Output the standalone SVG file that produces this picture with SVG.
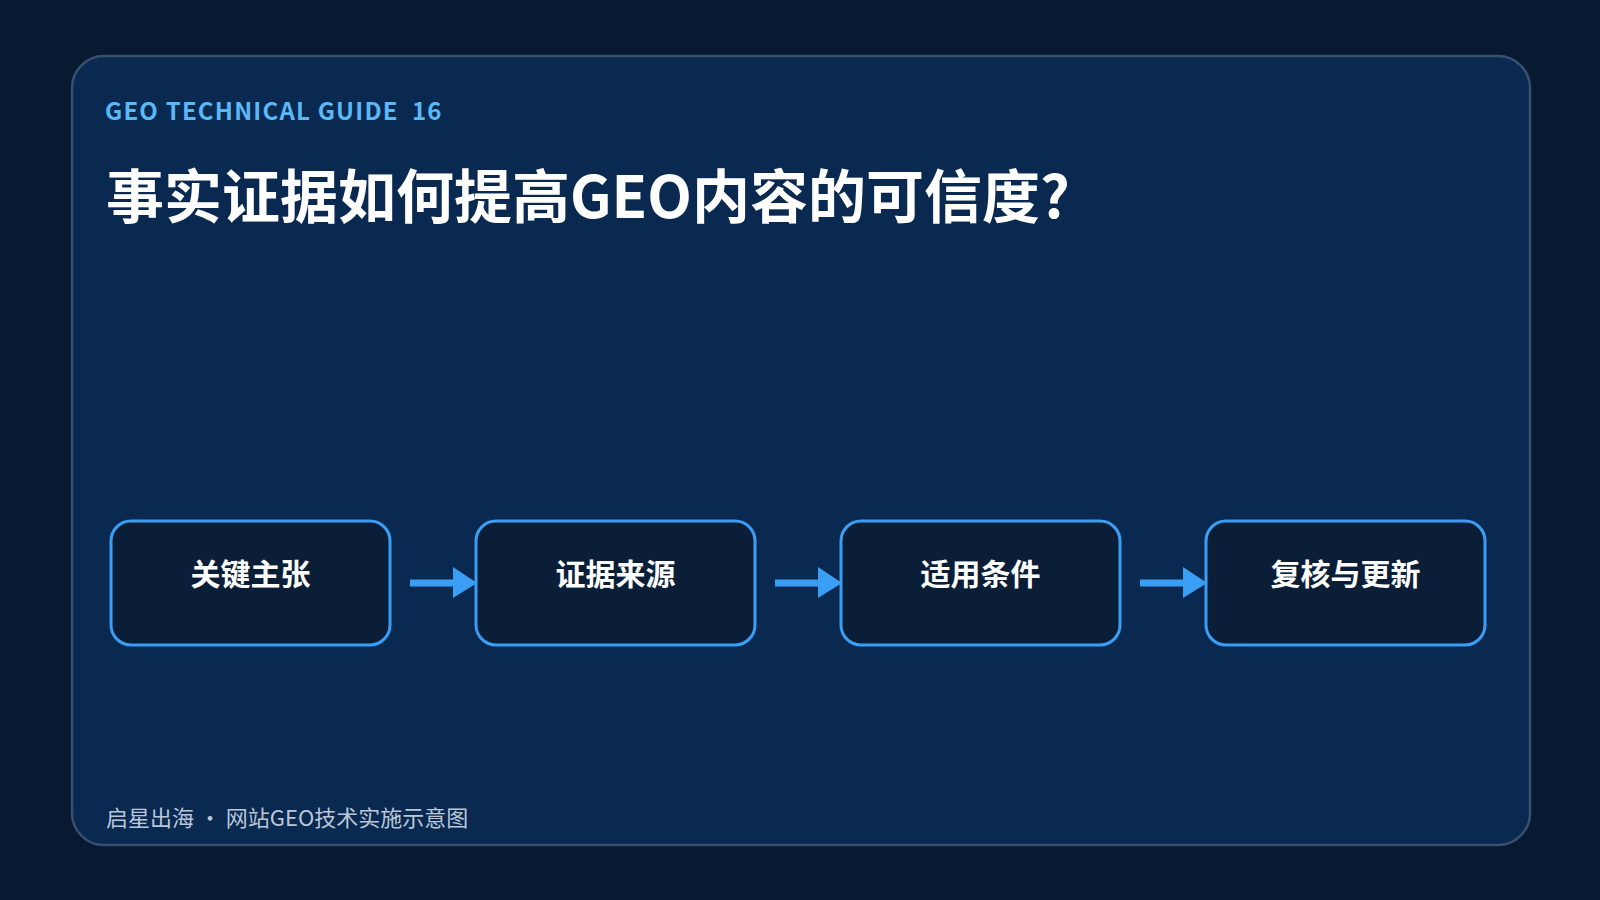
<svg xmlns="http://www.w3.org/2000/svg" width="1600" height="900" viewBox="0 0 1600 900">
  <style>
    .cjk { font-family: "Noto Sans CJK SC", "Noto Sans", sans-serif; }
    .node rect { fill: #0b1e37; stroke: #3a9ef5; stroke-width: 3; }
    .node text { fill: #ffffff; font-size: 30px; font-weight: 700; text-anchor: middle; }
    .conn line { stroke: #3a9ef5; stroke-width: 7; }
    .conn polygon { fill: #3a9ef5; }
  </style>
  <rect x="0" y="0" width="1600" height="900" fill="#081a31"/>
  <rect id="card" x="72" y="56" width="1458" height="789" rx="32" fill="#0a2950" stroke="#36506d" stroke-width="2.5"/>
  <text class="cjk" x="105" y="120" font-size="24" font-weight="700" letter-spacing="1.2" fill="#5bb8f7" xml:space="preserve">GEO TECHNICAL GUIDE  16</text>
  <text class="cjk" x="106" y="218" font-size="58" font-weight="700" fill="#ffffff">事实证据如何提高GEO内容的可信度?</text>

  <g id="connectors" class="conn">
    <line x1="410" y1="583" x2="456" y2="583"/>
    <polygon points="453,567 477,583 453,598"/>
    <line x1="775" y1="583" x2="821" y2="583"/>
    <polygon points="818,567 842,583 818,598"/>
    <line x1="1140" y1="583" x2="1186" y2="583"/>
    <polygon points="1183,567 1207,583 1183,598"/>
  </g>

  <g id="node1" class="node cjk">
    <rect x="111" y="521" width="279" height="124" rx="20"/>
    <text x="250.5" y="585">关键主张</text>
  </g>
  <g id="node2" class="node cjk">
    <rect x="476" y="521" width="279" height="124" rx="20"/>
    <text x="615.5" y="585">证据来源</text>
  </g>
  <g id="node3" class="node cjk">
    <rect x="841" y="521" width="279" height="124" rx="20"/>
    <text x="980.5" y="585">适用条件</text>
  </g>
  <g id="node4" class="node cjk">
    <rect x="1206" y="521" width="279" height="124" rx="20"/>
    <text x="1345.5" y="585">复核与更新</text>
  </g>

  <text class="cjk" x="106" y="826" font-size="22" fill="#b9c7d9" xml:space="preserve">启星出海 · 网站GEO技术实施示意图</text>
</svg>
